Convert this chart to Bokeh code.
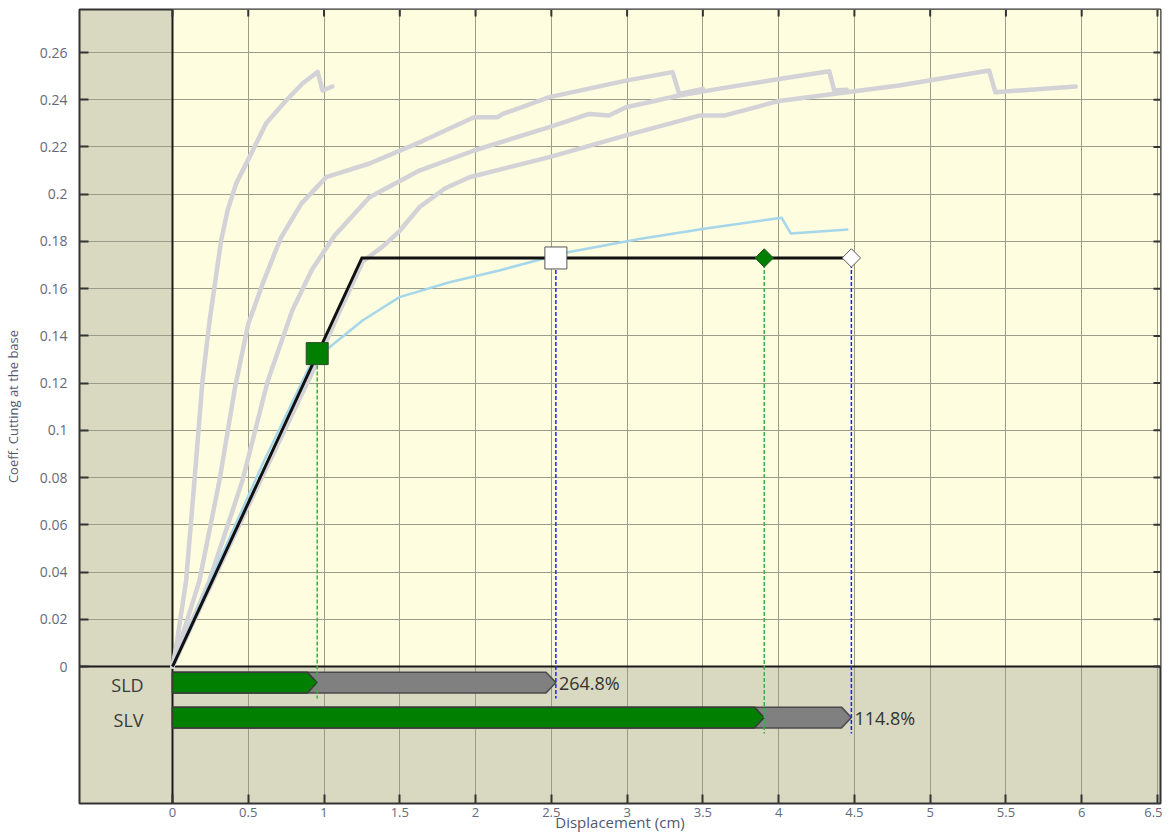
import numpy as np
from bokeh.plotting import figure
from bokeh.models import Range1d, FixedTicker, Span, BoxAnnotation
from bokeh.embed import file_html
from bokeh.resources import INLINE
from bokeh.core.properties import value

# ---------------- data ----------------
x_ticks = [0, 0.5, 1, 1.5, 2, 2.5, 3, 3.5, 4, 4.5, 5, 5.5, 6, 6.5]
y_ticks = [0, 0.02, 0.04, 0.06, 0.08, 0.1, 0.12, 0.14, 0.16, 0.18, 0.2, 0.22, 0.24, 0.26]

# pushover curves (grey)
curve_a_x = [0, 0.024, 0.09, 0.145, 0.198, 0.244, 0.321, 0.363, 0.42, 0.508, 0.618, 0.75, 0.858, 0.958, 0.99, 1.055]
curve_a_y = [0, 0.0082, 0.0364, 0.0788, 0.121, 0.146, 0.1804, 0.193, 0.2045, 0.2157, 0.230, 0.2397, 0.2469, 0.2518, 0.2439, 0.2456]

curve_b_x = [0, 0.06, 0.178, 0.31, 0.415, 0.5, 0.6, 0.715, 0.85, 1.014, 1.3, 1.65, 1.99, 2.146, 2.18, 2.487, 2.993, 3.3, 3.344, 3.5]
curve_b_y = [0, 0.012, 0.0364, 0.0788, 0.119, 0.145, 0.163, 0.1815, 0.196, 0.2072, 0.213, 0.2225, 0.2326, 0.2326, 0.234, 0.2411, 0.2481, 0.2517, 0.2425, 0.2446]

curve_c_x = [0, 0.08, 0.244, 0.462, 0.629, 0.79, 0.92, 1.07, 1.3, 1.63, 1.99, 2.487, 2.75, 2.88, 2.993, 3.344, 3.6, 4.004, 4.334, 4.367, 4.45]
curve_c_y = [0, 0.012, 0.0364, 0.0788, 0.121, 0.1507, 0.168, 0.1825, 0.1987, 0.21, 0.2185, 0.2284, 0.234, 0.2333, 0.2368, 0.2418, 0.2446, 0.2488, 0.2521, 0.2439, 0.2442]

curve_d_x = [0, 0.5, 0.948, 1.1, 1.256, 1.4, 1.5, 1.63, 1.8, 1.96, 2.487, 2.993, 3.476, 3.64, 4.004, 4.334, 4.795, 5.389, 5.43, 5.96]
curve_d_y = [0, 0.068, 0.128, 0.150, 0.1715, 0.1785, 0.1845, 0.1945, 0.2025, 0.2072, 0.2157, 0.2249, 0.2333, 0.2333, 0.2395, 0.2422, 0.246, 0.2524, 0.2432, 0.2456]

# pushover curve (light blue)
blue_x = [0, 0.3, 0.6, 0.9, 0.95, 1.036, 1.254, 1.498, 1.828, 2.157, 2.6, 3.08, 3.52, 4.02, 4.08, 4.46]
blue_y = [0, 0.0435, 0.0865, 0.1265, 0.1315, 0.1352, 0.1465, 0.1564, 0.1627, 0.1677, 0.1753, 0.181, 0.1855, 0.190, 0.1834, 0.185]

# bilinear curve
bilin_x = [0, 1.25, 4.48]
bilin_y = [0, 0.173, 0.173]

# limit states
states = ["SLD", "SLV"]
demand = [0.955, 3.905]
capacity = [2.53, 4.48]
demand_y = [0.1325, 0.173]
capacity_y = [0.173, 0.173]
ratio_labels = ["264.8%", "114.8%"]

# ---------------- figure ----------------
FONT = "Open Sans"
X0, X1 = -0.6137, 6.520
Y0, Y1 = -0.05801, 0.27821
FW, FH = 1081, 794
p = figure(frame_width=FW, frame_height=FH,
           x_range=Range1d(X0, X1), y_range=Range1d(Y0, Y1),
           output_backend="svg", toolbar_location=None,
           min_border_left=72, min_border_right=2, min_border_top=9, min_border_bottom=30)

p.background_fill_color = "#D9D8C0"
p.border_fill_color = "white"
p.outline_line_color = "#333333"
p.outline_line_width = 2

p.add_layout(BoxAnnotation(left=0, bottom=0, fill_color="#FEFDDF", fill_alpha=1,
                           line_color=None, level="image"))

for g, t in ((p.xgrid, x_ticks), (p.ygrid, y_ticks)):
    g.ticker = FixedTicker(ticks=t)
    g.grid_line_color = "#9c9c8a"
    g.grid_line_width = 1

def style_axis(ax, ticks):
    ax.ticker = FixedTicker(ticks=ticks)
    ax.axis_line_color = None
    ax.major_tick_in = 9
    ax.major_tick_out = 0
    ax.major_tick_line_color = "#333333"
    ax.major_tick_line_width = 2
    ax.minor_tick_line_color = None
    ax.major_label_overrides = {t: f"{t:g}" for t in ticks}
    ax.major_label_text_font = FONT
    ax.major_label_text_font_size = "14px"
    ax.major_label_text_color = "#646a7c"

xa = p.xaxis[0]
ya = p.yaxis[0]
style_axis(xa, x_ticks)
style_axis(ya, y_ticks)
xa.major_label_text_font_size = "13px"
xa.major_label_standoff = 4
ya.major_label_standoff = 12
xa.axis_label = "Displacement (cm)"
xa.axis_label_text_font = FONT
xa.axis_label_text_font_size = "15px"
xa.axis_label_text_font_style = "normal"
xa.axis_label_text_color = "#4f5870"
xa.axis_label_standoff = -8
ya.axis_label = "Coeff. Cutting at the base"
ya.axis_label_text_font = FONT
ya.axis_label_text_font_size = "13px"
ya.axis_label_text_font_style = "normal"
ya.axis_label_text_color = "#4f5870"
ya.axis_label_standoff = 15

# inward ticks on the top and right border (drawn from the tick lists)
tick_dy = 7 * (Y1 - Y0) / FH
tick_dx = 7 * (X1 - X0) / FW
p.segment(x0=x_ticks, y0=[Y1] * len(x_ticks), x1=x_ticks, y1=[Y1 - tick_dy] * len(x_ticks),
          line_color="#333333", line_width=2)
p.segment(x0=[X1] * len(y_ticks), y0=y_ticks, x1=[X1 - tick_dx] * len(y_ticks), y1=y_ticks,
          line_color="#333333", line_width=2)

# zero lines
p.add_layout(Span(location=0, dimension="height", line_color="#1a1a1a", line_width=2, level="underlay"))
p.add_layout(Span(location=0, dimension="width", line_color="#1a1a1a", line_width=2, level="underlay"))

# curves
for cx, cy in ((curve_a_x, curve_a_y), (curve_b_x, curve_b_y), (curve_c_x, curve_c_y), (curve_d_x, curve_d_y)):
    p.line(cx, cy, line_color="#D2D2D7", line_width=4.5, line_join="round", line_cap="round")
p.line(blue_x, blue_y, line_color="#A6D6EA", line_width=2.5, line_join="round")
p.line(bilin_x, bilin_y, line_color="#111111", line_width=3, line_join="miter")

# bars
bar_y = [-0.0068, -0.0216]
bar_h = 0.0088
tip = 0.065
def arrow(x0, x1, yc):
    return [x0, x1 - tip, x1, x1 - tip, x0], [yc + bar_h / 2, yc + bar_h / 2, yc, yc - bar_h / 2, yc - bar_h / 2]

gx, gy, kx, ky = [], [], [], []
for d, c, yc in zip(demand, capacity, bar_y):
    a, b = arrow(0, c, yc); gx.append(a); gy.append(b)
    a, b = arrow(0, d, yc); kx.append(a); ky.append(b)
p.patches(gx, gy, fill_color="#808080", line_color="#4a4a4a", line_width=1.5)
p.patches(kx, ky, fill_color="#007F00", line_color="#3a3a3a", line_width=1.5)

# dashed guide lines
drop = 0.0068
p.segment(x0=demand, y0=demand_y, x1=demand, y1=[y - drop for y in bar_y],
          line_color="#3CB043", line_width=1.5, line_dash="4 2")
p.segment(x0=capacity, y0=capacity_y, x1=capacity, y1=[y - drop for y in bar_y],
          line_color="#2020FF", line_width=1.5, line_dash="4 2")

# markers
p.scatter([demand[0]], [demand_y[0]], marker="square", size=22, fill_color="#007F00", line_color="#2d4d2d", line_width=1)
p.scatter([capacity[0]], [capacity_y[0]], marker="square", size=22, fill_color="white", line_color="#555555", line_width=1)
p.scatter([demand[1]], [demand_y[1]], marker="square", size=13, angle=np.pi / 4, fill_color="#007F00", line_color="#2d4d2d", line_width=1)
p.scatter([capacity[1]], [capacity_y[1]], marker="square", size=13, angle=np.pi / 4, fill_color="white", line_color="#555555", line_width=1)

# texts
p.text(x=[c + 0.02 for c in capacity], y=bar_y, text=ratio_labels, text_font=value(FONT),
       text_font_size=value("18px"), text_color="#333333", text_baseline="middle", text_align="left")
p.text(x=[-0.297, -0.290], y=[y - 0.001 for y in bar_y], text=states, text_font=value(FONT),
       text_font_size=value("18px"), text_color="#3a3a3a", text_baseline="middle", text_align="center")

open("out.html", "w").write(file_html(p, INLINE))
